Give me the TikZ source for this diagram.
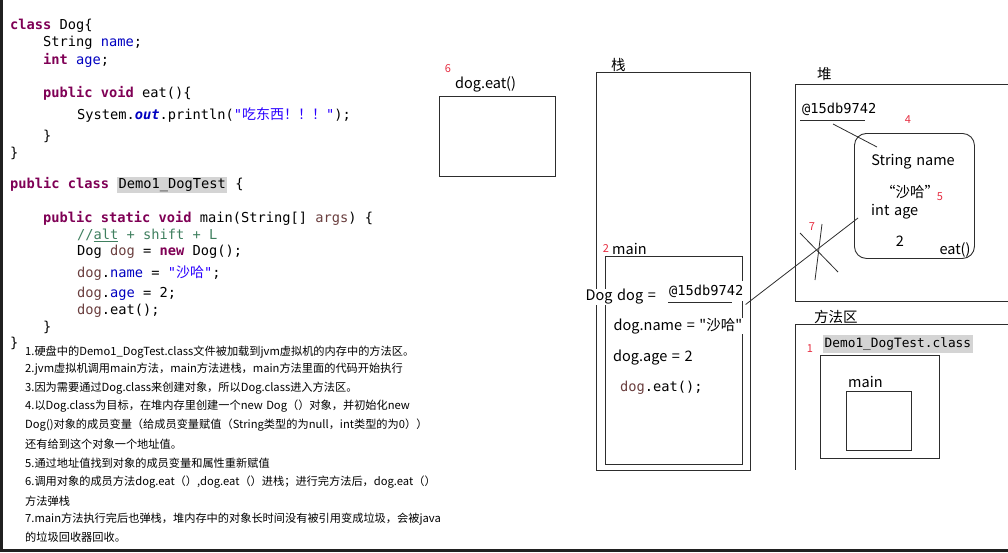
\documentclass[tikz,border=0pt]{standalone}
\usepackage{fontspec}
\setmonofont{DejaVu Sans Mono}
\newfontfamily\cjk{Noto Sans CJK SC}
\usetikzlibrary{positioning}

\definecolor{kwpurple}{RGB}{127,0,85}
\definecolor{fieldblue}{RGB}{0,0,192}
\definecolor{strblue}{RGB}{42,0,255}
\definecolor{cmtgreen}{RGB}{63,127,95}
\definecolor{varbrown}{RGB}{106,62,62}
\definecolor{hlgray}{RGB}{212,212,212}
\definecolor{stepred}{RGB}{230,45,65}
\definecolor{framegray}{RGB}{45,45,45}
\definecolor{edgedark}{RGB}{32,32,32}

\newcommand{\kw}[1]{\textcolor{kwpurple}{\textbf{#1}}}
\newcommand{\fld}[1]{\textcolor{fieldblue}{#1}}
\newcommand{\strlit}[1]{\textcolor{strblue}{#1}}
\newcommand{\lvar}[1]{\textcolor{varbrown}{#1}}
\newcommand{\memfont}{\cjk\fontsize{14.5}{17}\selectfont\spaceskip 4.6pt\relax}
\newcommand{\stepfont}{\cjk\fontsize{11.2}{13}\selectfont\spaceskip 3.4pt\relax}

\tikzset{
  codeline/.style={anchor=west,inner sep=0pt,font=\ttfamily\fontsize{13.7}{16}\selectfont},
  memlabel/.style={anchor=west,inner sep=0pt,font=\memfont},
  stepline/.style={anchor=west,inner sep=0pt,font=\stepfont},
  stepnum/.style={inner sep=0pt,text=stepred,font=\cjk\fontsize{11}{13}\selectfont},
  area/.style={draw=framegray,line width=0.9pt},
  link/.style={draw=framegray,line width=0.8pt},
}

\begin{document}
\begin{tikzpicture}[x=1pt,y=-1pt]
\useasboundingbox (0,0) rectangle (1008,552);
\fill[edgedark] (0,0) rectangle (2.5,552);
\fill[edgedark] (0,548.5) rectangle (1008,552);

% java code
\node[codeline] (c1) at (10,26) {\kw{class} Dog\{};
\node[codeline] (c2) at (43,43) {String \fld{name};};
\node[codeline] (c3) at (43,60) {\kw{int} \fld{age};};
\node[codeline] (c4) at (43,93) {\kw{public} \kw{void} eat()\{};
\node[codeline] (c5) at (77,115) {System.\fld{\textbf{\textit{out}}}.println(\strlit{"{\cjk\fontsize{14}{16}\selectfont 吃东西！！！}"});};
\node[codeline] (c6) at (43,136) {\}};
\node[codeline] (c7) at (10,153) {\}};
\node[codeline] (c8) at (10,185) {\kw{public} \kw{class} {\setlength{\fboxsep}{1.2pt}\colorbox{hlgray}{Demo1\_DogTest}} \{};
\node[codeline] (c9) at (43,218) {\kw{public} \kw{static} \kw{void} main(String[] \lvar{args}) \{};
\node[codeline] (c10) at (77,235) {\textcolor{cmtgreen}{//\underline{alt} + shift + L}};
\node[codeline] (c11) at (77,252) {Dog \lvar{dog} = \kw{new} Dog();};
\node[codeline] (c12) at (77,273) {\lvar{dog}.\fld{name} = \strlit{"{\cjk\fontsize{14}{16}\selectfont 沙哈}"};};
\node[codeline] (c13) at (77,294) {\lvar{dog}.\fld{age} = 2;};
\node[codeline] (c14) at (77,311) {\lvar{dog}.eat();};
\node[codeline] (c15) at (43,327) {\}};
\node[codeline] (c16) at (10,343) {\}};

% steps
\node[stepline] (s1) at (25,352) {1.硬盘中的Demo1\_DogTest.class文件被加载到jvm虚拟机的内存中的方法区。};
\node[stepline] (s2) at (25,369) {2.jvm虚拟机调用main方法，main方法进栈，main方法里面的代码开始执行};
\node[stepline] (s3) at (25,388) {3.因为需要通过Dog.class来创建对象，所以Dog.class进入方法区。};
\node[stepline] (s4) at (25,406) {4.以Dog.class为目标，在堆内存里创建一个new Dog（）对象，并初始化new};
\node[stepline] (s5) at (25,425) {Dog()对象的成员变量（给成员变量赋值（String类型的为null，int类型的为0））};
\node[stepline] (s6) at (25,444) {还有给到这个对象一个地址值。};
\node[stepline] (s7) at (25,463) {5.通过地址值找到对象的成员变量和属性重新赋值};
\node[stepline] (s8) at (25,482) {6.调用对象的成员方法dog.eat（）,dog.eat（）进栈；进行完方法后，dog.eat（）};
\node[stepline] (s9) at (25,501) {方法弹栈};
\node[stepline] (s10) at (25,519) {7.main方法执行完后也弹栈，堆内存中的对象长时间没有被引用变成垃圾，会被java};
\node[stepline] (s11) at (25,537) {的垃圾回收器回收。};

% dog.eat() frame
\node[stepnum] (n6) at (448,69) {6};
\node[memlabel] (eatlbl) at (455,84) {dog.eat()};
\node[area,anchor=north west,minimum width=116,minimum height=80] (eatframe) at (439,96) {};

% stack
\node[memlabel] (stacklbl) at (611,65) {栈};
\node[area,anchor=north west,minimum width=154,minimum height=398] (stack) at (596,72) {};
\node[stepnum] (n2) at (606,249) {2};
\node[memlabel] (mainlbl) at (612,249) {main};
\node[area,anchor=north west,minimum width=137,minimum height=208] (mainframe) at (605,256) {};
\node[memlabel,fill=white,inner sep=0.5pt] (dogvar) at (585,297) {Dog dog =};
\node[codeline,fill=white,inner xsep=2pt,inner ysep=4pt] (addr1) at (667,291) {@15db9742};
\draw[link] ([xshift=1pt,yshift=-1pt]addr1.south west) -- ([xshift=-14pt,yshift=-1pt]addr1.south east);
\node[memlabel,fill=white,inner sep=0.5pt] (setname) at (613,326) {dog.name = "沙哈"};
\node[memlabel] (setage) at (613,358) {dog.age = 2};
\node[codeline] (calleat) at (620,388) {\lvar{dog}.eat();};

% heap
\node[memlabel] (heaplbl) at (817,74) {堆};
\draw[area] (1008,84) -- (795,84) -- (795,301) -- (1008,301);
\node[codeline] (addr2) at (802,109) {@15db9742};
\draw[link] (800,120) -- (865,120);
\node[stepnum] (n4) at (908,120) {4};
\node[area,rounded corners=12pt,anchor=north west,minimum width=120,minimum height=125] (obj) at (854,133) {};
\node[memlabel,anchor=center] (fname) at (913,162) {String name};
\node[memlabel,anchor=center] (fval) at (910,192) {“沙哈”};
\node[stepnum] (n5) at (940,197) {5};
\node[memlabel] (fage) at (871,212) {int age};
\node[memlabel,anchor=center] (fageval) at (900,241) {2};
\node[memlabel,anchor=center] (feat) at (955,250) {eat()};
\coordinate (strref) at (877,147);
\coordinate (ageref) at (858,218);
\draw[link] (833,124) -- (strref);
\draw[link] ([yshift=-3pt]addr1.south east) -- (ageref);
% reference cut off
\node[stepnum] (n7) at (812,227) {7};
\draw[link] (800,233) -- (838,272);
\draw[link] (822,224) -- (815,280);

% method area
\node[memlabel] (methodlbl) at (814,317) {方法区};
\draw[area] (1008,324) -- (795,324) -- (795,470);
\node[stepnum] (n1) at (810,349) {1};
\node[area,anchor=north west,minimum width=119,minimum height=103] (classbox) at (820,355) {};
\node[codeline,fill=hlgray,font=\ttfamily\fontsize{12.8}{15}\selectfont,inner xsep=1.5pt,inner ysep=3pt] (classlbl) at (823,344) {Demo1\_DogTest.class};
\node[memlabel] (mainref) at (848,382) {main};
\node[area,anchor=north west,minimum width=65,minimum height=59] (mainbox) at (846,391) {};
\end{tikzpicture}
\end{document}
